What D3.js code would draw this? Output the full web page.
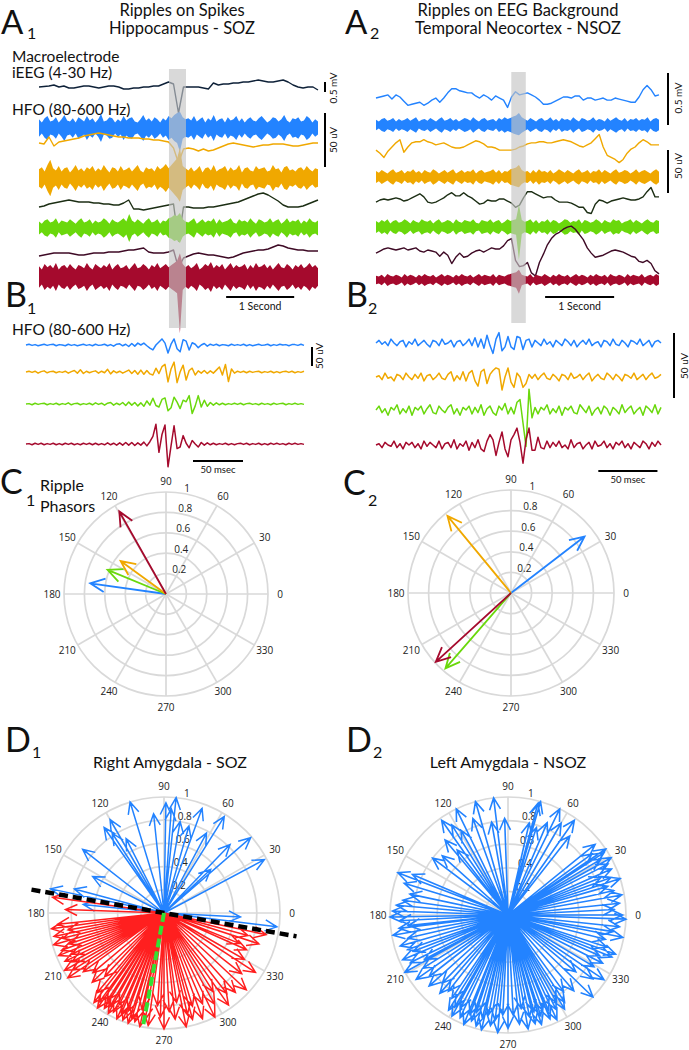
<!DOCTYPE html>
<html><head><meta charset="utf-8">
<script src="https://cdn.jsdelivr.net/npm/d3@7"></script>
<style>body{margin:0;background:#fff} text{font-family:Lato,"Open Sans",sans-serif;fill:#111}</style>
</head><body><script>
// ---------- data ----------
// A1 iEEG traces, uV, 57 samples over 4.1 s
var a1EegNavy = [0,25,50,100,0,50,-50,-50,0,50,50,0,-50,0,50,50,0,-100,-100,-50,-50,0,0,50,50,150,250,150,-1300,0,0,0,0,-50,-100,200,100,150,150,200,200,250,250,300,350,300,250,250,300,350,250,100,0,-50,0,0,-150];
var a1EegOrange = [0,-1,6,-3,1,2,3,4,5,7,8,9,10,9,8,7,6,6,5,5,5,4,4,3,3,2,1,-5,-20,-6,-5,-6,-8,-6,-8,-7,-5,-3,-1,0,-1,-2,-3,-4,-3,-2,-2,-1,-1,-1,-2,-3,-3,-2,-1,0,0].map(function(v){return v*50;});
var a1EegGreen = [-4,-3,-1,0,1,2,3,2,1,1,1,0,0,-1,-1,-2,-2,0,3,-6,-6,-7,-6,-5,-4,-3,-2,-1,-38,-4,-4,-5,-5,-5,-4,-4,-3,-2,-1,0,1,3,5,7,9,10,8,5,2,-2,-4,-4,-4,-3,-1,1,3].map(function(v){return v*50;});
var a1EegMaroon = [-3,-2,-1,0,0,0,0,-1,-2,-2,-1,0,0,0,1,1,1,2,3,3,4,5,1,0,0,0,1,3,-15,-5,-3,-1,0,-1,-2,-2,-3,-4,-5,-4,-2,0,1,2,3,3,4,6,8,7,5,4,3,3,2,2,2].map(function(v){return v*50;});
// A1 HFO envelopes, uV, 100 samples; spike = [index, up, down]
var a1HfoBlue = [8,5,9,11,6,7,10,5,8,12,7,6,9,5,10,8,6,11,7,9,5,8,13,6,7,10,9,5,8,6,11,7,9,10,6,5,8,12,7,9,6,10,8,5,9,7,11,9,12,14,16,10,8,9,7,11,6,8,10,5,9,7,12,6,8,9,5,10,7,8,11,6,9,5,8,10,7,6,9,11,8,5,7,10,9,6,8,12,7,5,9,8,10,6,7,11,9,5,8,6];
var a1HfoOrange = [8,10,6,12,17,9,7,11,6,9,10,5,8,12,7,9,6,10,8,11,6,9,7,12,8,5,10,9,6,11,7,8,10,6,9,12,7,5,10,8,9,6,11,8,10,13,9,12,15,18,24,11,9,7,10,6,8,11,5,9,10,7,12,6,8,9,11,6,10,7,8,12,5,9,10,7,6,11,8,9,10,6,7,12,8,9,5,10,11,7,8,6,9,10,7,11,8,6,9,8];
var a1HfoGreen = [6,4,7,8,5,6,9,4,7,6,5,8,6,4,7,9,5,6,8,4,7,5,6,9,7,4,8,6,5,7,9,6,13,7,5,8,6,4,7,9,5,6,8,4,7,6,9,10,12,11,14,8,6,5,7,9,4,6,8,5,7,6,9,4,8,5,6,7,9,5,4,8,6,7,5,9,6,4,8,7,5,6,9,5,7,8,4,6,9,5,7,6,8,4,7,5,9,6,5,7];
var a1HfoRed = [10,7,12,9,11,8,13,7,10,11,8,12,9,7,11,10,8,13,9,7,12,10,8,11,9,13,7,10,12,8,9,11,7,10,13,8,9,12,10,7,11,9,13,8,10,12,9,11,13,15,20,12,9,11,8,10,13,7,9,12,10,14,8,11,9,12,7,10,13,8,11,9,10,12,7,11,8,13,9,10,12,8,11,7,10,13,9,8,12,10,7,11,9,12,8,10,13,9,11,8];
var a1Spikes = {blue:[50,15,22], orange:[50,28,22], green:[50,14,14], red:[50,22,52]};
// A2 iEEG traces, uV, 72 samples over 4.1 s
var a2EegBlue = [-1,0,1,2,-2,2,0,-4,-8,-7,-6,-5,-8,-6,-3,-1,-5,-1,4,8,8,6,5,4,4,1,-1,2,0,-3,1,-1,-3,-10,0,5,2,3,4,2,0,-3,-7,-7,-6,-4,-2,0,0,-1,1,1,-3,-1,-1,-3,-2,-1,-3,-3,-1,-2,-3,-4,-5,-5,0,7,11,7,1,2].map(function(v){return v*10;});
var a2EegOrange = [-3,-6,-10,-4,0,4,7,-5,0,4,5,5,7,5,4,2,3,4,2,0,-1,-1,0,2,4,6,5,3,0,0,-1,-3,-3,-3,-3,-2,0,1,3,4,4,5,5,4,4,5,6,7,6,5,3,1,0,2,4,8,12,0,-8,-10,-12,-15,-12,-6,-2,0,4,7,5,2,2,2].map(function(v){return v*10;});
var a2EegGreen = [-2,0,1,0,1,2,1,-1,0,2,4,6,3,-2,-3,-2,0,2,5,7,4,4,7,4,2,-1,-4,-3,0,-1,-1,1,1,-1,-3,-7,-5,2,8,8,6,4,2,3,3,0,-2,-2,-2,-3,-5,-7,-7,-12,-13,-4,0,-1,-3,-1,0,1,2,1,0,0,1,3,8,12,3,3].map(function(v){return v*10;});
var a2EegMaroon = [-3,-1,1,2,1,0,1,2,0,1,2,-1,-2,0,-1,-2,-6,-2,-5,-13,-7,-3,-7,-6,-3,-1,0,-2,0,2,1,1,4,9,11,-10,-16,-15,-12,-22,-25,-12,-4,5,11,15,17,20,22,23,20,15,10,2,-3,-7,-6,-5,-3,-1,0,-1,-2,-4,-6,-7,-11,-12,-10,-13,-20,-23].map(function(v){return v*10;});
// A2 HFO envelopes, uV, 100 samples
var a2HfoBlue = [6,4,7,8,5,6,8,4,7,5,6,8,5,7,9,4,6,7,5,8,6,4,7,9,5,6,8,5,7,4,6,8,7,5,9,6,4,7,8,5,6,7,4,8,6,9,7,8,10,11,12,9,7,5,8,6,4,7,8,5,6,9,5,7,4,8,6,7,5,9,6,4,8,7,5,6,9,5,7,6,4,8,5,7,9,6,5,8,4,7,6,8,5,7,6,9,4,7,8,6];
var a2HfoOrange = [7,5,8,6,4,7,9,5,6,8,4,7,6,9,5,7,4,8,6,5,9,7,4,6,8,5,7,9,4,6,8,5,7,6,9,4,7,8,5,6,7,9,5,8,4,7,6,9,10,11,12,8,6,7,4,8,5,9,6,7,5,8,4,6,9,7,5,8,6,4,7,9,5,6,8,4,7,6,9,5,8,6,4,7,9,5,6,8,7,4,6,9,5,7,8,6,4,7,9,6];
var a2HfoGreen = [7,5,8,6,9,4,7,8,5,6,9,7,4,8,6,5,9,7,6,8,4,7,9,5,6,8,7,4,9,6,5,8,7,6,9,5,4,8,7,6,9,5,7,8,4,6,9,7,8,9,10,8,6,7,9,5,8,4,7,6,9,5,8,7,4,6,9,8,5,7,6,9,4,8,7,5,6,9,7,4,8,6,5,9,7,8,4,6,7,9,5,8,6,4,7,9,6,5,8,7];
var a2HfoRed = [5,4,6,3,7,5,4,6,5,3,7,4,6,5,3,6,4,7,5,4,6,3,5,7,4,6,5,3,6,4,7,5,4,6,3,5,7,4,6,5,4,7,3,6,5,4,6,7,8,9,10,6,5,4,7,3,6,5,4,7,5,3,6,4,7,5,4,6,3,5,7,4,6,5,3,6,4,7,5,4,6,3,7,5,4,6,5,3,7,4,6,5,4,7,3,5,6,4,7,5];
var a2Spikes = {blue:[50,14,12], orange:[50,14,12], green:[50,26,38], red:[50,12,16]};
// B1 ripples, uV, 93 samples over 278 ms
var b1Blue = [0,2,-1,1,-2,0,2,-1,1,2,-2,1,0,-2,2,-1,1,-2,0,2,-1,1,-2,2,-1,0,2,-2,1,-3,2,3,-2,2,-4,4,-3,5,
  0,5,-2,-8,-13,0,8,16,5,-21,2,16,-10,-18,14,10,-13,6,2,
  -7,0,4,-3,2,-1,2,-2,1,0,-2,2,-1,1,-1,2,-2,1,-2,0,2,-1,0,2,-2,1,-1,2,0,1,-2,1,1,-1,2,-1];
var b1Orange = [0,2,-1,2,-3,1,3,-2,1,2,-2,1,-1,2,-3,1,4,-3,6,-4,2,-2,1,3,-3,2,-2,7,-5,3,-2,2,-3,1,5,-4,4,-6,
  5,-6,4,-5,-8,10,-4,14,20,-26,8,26,-28,0,18,-21,4,10,-8,3,-3,
  4,-4,3,-3,5,13,-8,20,-25,8,-3,
  2,-1,2,-2,2,-1,1,2,-2,1,-1,2,-2,1,-2,1,2,-1,2,-2,1,-1,2];
var b1Green = [0,1,-2,2,-1,1,2,-2,1,-1,2,-2,1,-1,3,-2,1,2,-2,1,-1,2,-2,3,-1,2,-3,2,4,-3,2,-2,4,-4,5,-3,4,-5,
  3,-6,8,-3,15,-4,-8,12,16,-18,-10,18,5,-12,10,6,22,-25,-5,22,-8,10,-6,4,-3,3,
  -2,2,-2,1,-1,2,-1,2,-2,1,2,-1,1,-2,2,-1,1,-2,2,-1,1,2,-2,1,-1,2,-1,1,-1];
var b1Red = [0,1,-2,2,-1,2,-2,1,-1,2,-2,1,-2,2,-1,2,-2,1,-2,2,-1,2,-2,2,-2,1,-2,3,-2,2,-3,3,-3,4,-3,4,-4,3,
  -3,5,-5,6,20,52,-22,25,50,-60,-5,48,-12,-8,22,2,-10,9,0,-8,4,-3,3,
  -2,2,-2,1,-1,2,-2,1,-2,1,2,-1,2,-2,1,-1,2,-2,1,-2,2,-1,2,-1,1,-2,2,-1,2,-1,1,-1];
// B2 ripples, uV, 96 samples over 241 ms
var b2Blue = [0,2,-1,1,-2,3,0,-2,1,2,-3,1,-1,3,-2,0,2,-1,-3,2,1,-2,3,-1,0,2,-3,1,2,-2,0,3,-2,4,-3,
  3,-4,6,-2,-8,3,8,-6,-3,5,-3,-5,5,4,-5,2,3,-3,
  2,0,-2,3,-1,1,-3,2,0,-2,3,1,-2,2,-3,0,2,-1,3,-2,0,1,-3,2,1,-2,3,-1,-2,2,0,-3,2,1,-1,3,-2,0,2,-3,1,2,0];
var b2Orange = [0,1,-2,3,-1,0,-3,2,1,-2,3,0,-2,2,-1,3,-3,1,2,-2,0,3,-1,-2,2,4,-3,1,-2,4,-3,
  3,5,-3,-7,4,6,-5,2,5,7,6,-10,0,7,-4,-8,3,0,-8,-5,2,-1,
  2,-2,1,3,-1,-2,2,0,-3,2,1,-2,3,-1,0,2,-2,1,3,-3,0,2,-1,-2,3,1,-2,2,0,-3,2,1,-1,3,-2,0,2,-2,1,3,-1,0,2];
var b2Green = [0,3,-2,1,-4,2,0,4,-3,1,-2,3,-4,2,0,3,-3,1,4,-2,-3,3,0,-2,2,4,-3,1,-4,2,0,3,-3,2,-2,4,-4,1,3,-2,-4,3,0,5,-3,2,
  -3,6,8,-10,-28,16,-6,2,
  -3,2,0,4,-3,1,-2,3,-4,2,0,3,-2,-3,4,1,-2,3,-4,0,2,-3,3,1,-4,2,0,-3,4,-2,1,3,-3,0,2,-4,3,1,-2,4,-3,2];
var b2Red = [0,1,-2,2,0,-1,3,-2,1,-3,2,0,2,-2,1,-3,3,-1,2,0,-2,3,-3,1,2,-2,4,-3,1,-1,3,-4,2,-2,4,-3,
  -5,3,8,4,-8,2,10,-3,-9,4,8,13,2,-14,4,13,-4,-4,6,-2,-3,3,-2,
  2,-1,3,-2,0,-3,4,-2,1,2,-3,0,2,-3,3,-1,0,3,-2,1,-3,2,0,3,-2,1,-3,2,0,-2,3,1,-3,2,-1,3,0];
// C phasors [colour, angle deg, magnitude]
var c1Phasors = [["blue",172,0.75],["green",157.5,0.62],["orange",144,0.55],["red",119.5,0.93]];
var c2Phasors = [["blue",37.5,0.9],["orange",129.5,0.97],["green",229,0.97],["red",222.5,0.99]];
// D1 phasors [angle deg, magnitude]
var d1Blue = [[107,1.0],[96,0.86],[89,0.95],[84,1.0],[86,0.9],[80,0.8],[70,0.96],[74,0.78],[58,0.98],[62,0.78],[41,0.99],[46,0.82],[28,0.98],[43,0.55],[120,0.93],[123,0.82],[125,0.9],[117,0.72],[142,0.89],[153,0.69],[168,1.0],[165,0.8],[174,0.7],[353,0.98],[357,0.66]];
var d1Red = [[172,0.97],[178,0.85],[186,0.92],[188,0.98],[190,0.84],[192,0.97],[194,0.9],[196,0.99],[198,0.86],[200,0.94],[202,0.98],[204,0.87],[206,0.95],[208,0.9],[210,0.99],[212,0.93],[214,1.0],[216,0.86],[220,0.8],[224,0.86],[227,0.75],[230,0.9],[232,0.98],[234,0.95],[235,1.0],[237,0.9],[238,0.97],[240,0.93],[241,0.99],[243,0.96],[244,0.88],[246,1.0],[247,0.94],[249,0.99],[250,0.9],[252,1.0],[253,0.95],[255,0.97],[257,0.85],[258,1.0],[260,0.93],[262,0.98],[266,0.8],[268,0.9],[270,1.0],[273,0.85],[276,0.92],[278,0.78],[281,1.0],[283,0.9],[285,0.95],[287,0.84],[290,0.97],[293,0.85],[296,1.0],[299,0.9],[302,0.8],[305,0.97],[308,0.88],[312,0.92],[317,0.97],[322,0.85],[327,0.94],[330,0.8],[336,0.78],[338,0.7],[342,0.86],[345,0.75],[348,0.9]];
var d1SplitAngle = 170, d1SplitLen = 1.16;
var d1Mean = [259.5, 1.0];
// D2 phasors
var d2Blue = [[0,0.97],[3,0.9],[6,0.95],[10,0.98],[13,0.92],[16,0.88],[18,1.0],[20,0.93],[22,0.85],[24,0.96],[27,0.95],[29,1.0],[31,0.92],[33,0.97],[34,1.0],[36,0.88],[39,0.95],
  [52,0.85],[55,0.98],[60,0.9],[64,1.0],[67,0.85],[72,0.78],[74,1.0],[75,0.98],[77,0.8],
  [92,0.82],[97,1.0],[100,0.8],[106,1.0],[110,0.87],[116,1.0],[119,0.82],[122,0.9],[125,0.98],[128,0.7],[130,0.83],
  [138,0.75],[143,0.8],[157,0.88],[159,1.0],[163,0.92],[168,0.85],
  [172,0.9],[175,0.95],[178,0.98],[181,1.0],[183,0.92],[186,0.85],[187,0.93],[190,0.99],[193,0.87],[196,0.95],[199,0.9],
  [201,0.86],[203,0.97],[206,0.92],[208,0.8],[209,1.0],[212,0.85],[215,0.95],[218,0.85],[222,0.9],[226,0.8],[229,0.88],[232,0.82],
  [236,0.85],[238,0.95],[240,0.9],[241,0.98],[243,0.88],[245,0.96],[248,1.0],[249,0.9],[251,0.95],[252,0.87],[254,0.98],[256,0.9],[257,1.0],[259,0.86],[261,0.95],[263,0.9],[265,1.0],[267,0.85],
  [270,0.96],[273,0.85],[276,0.93],[278,0.8],[280,0.98],[282,0.88],[284,0.95],[285,0.85],[287,0.97],[288,0.9],[290,0.86],[292,0.95],[293,0.88],[295,0.98],[297,0.9],[299,0.85],[301,0.93],[303,0.88],[306,0.8],
  [311,0.85],[316,1.0],[320,0.75],[323,0.9],[326,0.98],[329,0.85],[333,0.9],[336,0.85],[338,0.95],[340,0.97],[342,0.88],[346,0.85],[349,0.99],[351,0.9],[354,0.95],[358,1.0]];
var polarAngles = [0,30,60,90,120,150,180,210,240,270,300,330];
var polarRings = [0.2,0.4,0.6,0.8,1];
var ringLabels = ["0.2","0.4","0.6","0.8","1"];

// ---------- style ----------
var col = {blue:"#2383ff", orange:"#f0a800", green:"#6ad80c", red:"#a50a2d",
  navy:"#0e2138", dkgreen:"#1c2e14", maroon:"#3e0a25", dred:"#ff1f1f", grid:"#d9d9d9"};

var svg = d3.select("body").append("svg").attr("width",689).attr("height",1050);
svg.append("rect").attr("width",689).attr("height",1050).attr("fill","#fff");

function label(x, y, s, size, anchor, fam) {
  return svg.append("text").attr("x",x).attr("y",y).attr("font-size",size)
    .attr("text-anchor",anchor || "start").style("font-family", fam || null).text(s);
}
function letter(x, y, L, sub, sx, sy, size) {
  label(x, y, L, size || 34);
  label(sx, sy, sub, 16);
}
function vlabel(x, y, s, size) {
  svg.append("text").attr("transform","translate("+x+","+y+") rotate(-90)")
    .attr("text-anchor","middle").attr("font-size",size).text(s);
}
function trace(vals, xr, base, gain, color, w) {
  var x = d3.scaleLinear().domain([0, vals.length-1]).range(xr);
  var line = d3.line().x(function(d,i){return x(i);}).y(function(d){return base - gain(d);});
  svg.append("path").datum(vals).attr("d",line).attr("fill","none")
    .attr("stroke",color).attr("stroke-width",w).attr("stroke-linejoin","round");
}
function band(amp, sp, xr, base, gain, color) {
  var x = d3.scaleLinear().domain([0, amp.length-1]).range(xr);
  var area = d3.area().x(function(d,i){return x(i);})
    .y0(function(d,i){return base + gain(i===sp[0] ? sp[2] : d);})
    .y1(function(d,i){return base - gain(i===sp[0] ? sp[1] : d);});
  svg.append("path").datum(amp).attr("d",area).attr("fill",color);
}
function hbar(x1, x2, y) {
  svg.append("line").attr("x1",x1).attr("x2",x2).attr("y1",y).attr("y2",y).attr("stroke","#000").attr("stroke-width",2);
}
function vbar(x, y1, y2) {
  svg.append("line").attr("x1",x).attr("x2",x).attr("y1",y1).attr("y2",y2).attr("stroke","#000").attr("stroke-width",2);
}

// ---------- A1 ----------
letter(1, 34, "A", "1", 27, 39, 33);
label(182, 16, "Ripples on Spikes", 16.5, "middle");
label(182, 34, "Hippocampus - SOZ", 16.5, "middle");
label(12, 62, "Macroelectrode", 15.5);
label(12, 78, "iEEG (4-30 Hz)", 15.5);
label(12, 115, "HFO (80-600 Hz)", 15.5);
var a1Time = d3.scaleLinear().domain([0, 4.1]).range([39, 318]);
var a1Eeg = d3.scaleLinear().domain([0, 500]).range([0, 10]);
var a1Hfo = d3.scaleLinear().domain([0, 50]).range([0, 54]);
var xa1 = a1Time.range();
trace(a1EegNavy, xa1, 87, a1Eeg, col.navy, 1.4);
band(a1HfoBlue, a1Spikes.blue, xa1, 128, a1Hfo, col.blue);
trace(a1EegOrange, xa1, 143, a1Eeg, col.orange, 1.4);
band(a1HfoOrange, a1Spikes.orange, xa1, 178, a1Hfo, col.orange);
trace(a1EegGreen, xa1, 203, a1Eeg, col.dkgreen, 1.4);
band(a1HfoGreen, a1Spikes.green, xa1, 228, a1Hfo, col.green);
trace(a1EegMaroon, xa1, 253, a1Eeg, col.maroon, 1.4);
band(a1HfoRed, a1Spikes.red, xa1, 277, a1Hfo, col.red);
svg.append("rect").attr("x",a1Time(1.91)).attr("width",a1Time(2.16)-a1Time(1.91))
  .attr("y",69).attr("height",259).attr("fill","#c4c4c4").attr("opacity",0.65);
vbar(325, 82, 82 + a1Eeg(500)); vlabel(337, 88, "0.5 mV", 10);
vbar(325, 113, 113 + a1Hfo(50)); vlabel(337, 140, "50 uV", 10);
hbar(a1Time(2.75), a1Time(3.75), 297);
label((a1Time(2.75)+a1Time(3.75))/2, 310, "1 Second", 10.5, "middle");

// ---------- A2 ----------
letter(345, 34, "A", "2", 370, 39, 33);
label(518, 16, "Ripples on EEG Background", 16.5, "middle");
label(518, 34, "Temporal Neocortex - NSOZ", 16.5, "middle");
var a2Time = d3.scaleLinear().domain([0, 4.1]).range([376, 659]);
var a2Eeg = d3.scaleLinear().domain([0, 500]).range([0, 52]);
var a2Hfo = d3.scaleLinear().domain([0, 50]).range([0, 43]);
var xa2 = a2Time.range();
trace(a2EegBlue, xa2, 97, a2Eeg, col.blue, 1.4);
band(a2HfoBlue, a2Spikes.blue, xa2, 125, a2Hfo, col.blue);
trace(a2EegOrange, xa2, 147, a2Eeg, col.orange, 1.4);
band(a2HfoOrange, a2Spikes.orange, xa2, 177, a2Hfo, col.orange);
trace(a2EegGreen, xa2, 200, a2Eeg, col.dkgreen, 1.4);
band(a2HfoGreen, a2Spikes.green, xa2, 227, a2Hfo, col.green);
trace(a2EegMaroon, xa2, 250, a2Eeg, col.maroon, 1.4);
band(a2HfoRed, a2Spikes.red, xa2, 280, a2Hfo, col.red);
svg.append("rect").attr("x",a2Time(1.96)).attr("width",a2Time(2.17)-a2Time(1.96))
  .attr("y",72).attr("height",251).attr("fill","#c4c4c4").attr("opacity",0.65);
vbar(668, 73, 73 + a2Eeg(500)); vlabel(682, 98, "0.5 mV", 10);
vbar(668, 150, 150 + a2Hfo(50)); vlabel(682, 166, "50 uV", 10);
hbar(a2Time(2.45), a2Time(3.45), 297);
label((a2Time(2.45)+a2Time(3.45))/2, 310, "1 Second", 10.5, "middle");

// ---------- B1 ----------
letter(5, 307, "B", "1", 27, 314);
label(12, 335, "HFO (80-600 Hz)", 15.5);
var b1Time = d3.scaleLinear().domain([0, 278]).range([26, 304]);
var b1Amp = d3.scaleLinear().domain([0, 50]).range([0, 19]);
trace(b1Blue, b1Time.range(), 345, b1Amp, col.blue, 1.5);
trace(b1Orange, b1Time.range(), 372, b1Amp, col.orange, 1.5);
trace(b1Green, b1Time.range(), 404, b1Amp, col.green, 1.5);
trace(b1Red, b1Time.range(), 444, b1Amp, col.red, 1.5);
vbar(312, 347, 347 + b1Amp(50)); vlabel(323, 356, "50 uV", 10);
hbar(b1Time(167), b1Time(217), 461);
label(b1Time(192), 473, "50 msec", 9.5, "middle");

// ---------- B2 ----------
letter(346, 307, "B", "2", 368, 314);
var b2Time = d3.scaleLinear().domain([0, 241]).range([376, 661]);
var b2Amp = d3.scaleLinear().domain([0, 50]).range([0, 65]);
trace(b2Blue, b2Time.range(), 343, b2Amp, col.blue, 1.5);
trace(b2Orange, b2Time.range(), 377, b2Amp, col.orange, 1.5);
trace(b2Green, b2Time.range(), 410, b2Amp, col.green, 1.5);
trace(b2Red, b2Time.range(), 445, b2Amp, col.red, 1.5);
vbar(674, 333, 333 + b2Amp(50)); vlabel(688, 366, "50 uV", 10);
hbar(b2Time(188), b2Time(238), 471);
label(b2Time(213), 483, "50 msec", 9.5, "middle");

// ---------- polar helpers ----------
function polar(cx, cy, R) {
  var r = d3.scaleLinear().domain([0, 1]).range([0, R]);
  var g = svg.append("g");
  g.selectAll("circle").data(polarRings).join("circle").attr("cx",cx).attr("cy",cy)
    .attr("r",function(d){return r(d);}).attr("fill","none").attr("stroke",col.grid).attr("stroke-width",1.7);
  g.selectAll("line").data(polarAngles).join("line").attr("x1",cx).attr("y1",cy)
    .attr("x2",function(d){return cx + r(1)*Math.cos(d*Math.PI/180);})
    .attr("y2",function(d){return cy - r(1)*Math.sin(d*Math.PI/180);})
    .attr("stroke",col.grid).attr("stroke-width",1.7);
  g.selectAll("text.ang").data(polarAngles).join("text").attr("class","ang")
    .attr("x",function(d){return cx + (R+12)*Math.cos(d*Math.PI/180);})
    .attr("y",function(d){return cy - (R+11)*Math.sin(d*Math.PI/180);})
    .attr("dy","0.35em").attr("text-anchor","middle").attr("font-size",10)
    .style("font-family","'Open Sans'").style("fill","#222").text(function(d){return d;});
  g.selectAll("text.rad").data(polarRings).join("text").attr("class","rad")
    .attr("x",function(d){return cx + R*0.11 + 10*d;})
    .attr("y",function(d){return cy - r(d) - 4;})
    .attr("dy","0.35em").attr("text-anchor","middle").attr("font-size",10)
    .style("font-family","'Open Sans'").style("fill","#222").text(function(d,i){return ringLabels[i];});
  return r;
}
function arrows(cx, cy, r, list, color, w, head) {
  var p = d3.path();
  list.forEach(function(d){
    var a = d[0]*Math.PI/180, len = r(d[1]);
    var tx = cx + len*Math.cos(a), ty = cy - len*Math.sin(a);
    var h = 25*Math.PI/180;
    p.moveTo(cx, cy); p.lineTo(tx, ty);
    p.moveTo(tx + head*Math.cos(a+Math.PI-h), ty - head*Math.sin(a+Math.PI-h));
    p.lineTo(tx, ty);
    p.lineTo(tx + head*Math.cos(a+Math.PI+h), ty - head*Math.sin(a+Math.PI+h));
  });
  svg.append("path").attr("d",p.toString()).attr("fill","none").attr("stroke",color)
    .attr("stroke-width",w).attr("stroke-linejoin","miter");
}

// ---------- C1 / C2 ----------
letter(0, 494, "C", "1", 26, 506);
label(40, 491, "Ripple", 16);
label(40, 512, "Phasors", 16);
var c1r = polar(166, 594, 102);
c1Phasors.forEach(function(d){ arrows(166, 594, c1r, [[d[1], d[2]]], col[d[0]], 1.8, 16); });
letter(343, 495, "C", "2", 368, 506);
var c2r = polar(511, 593, 103);
c2Phasors.forEach(function(d){ arrows(511, 593, c2r, [[d[1], d[2]]], col[d[0]], 1.8, 16); });

// ---------- D1 / D2 ----------
letter(5, 752, "D", "1", 32, 758);
label(170, 768, "Right Amygdala - SOZ", 16, "middle");
var d1r = polar(164, 913, 116);
arrows(164, 913, d1r, d1Blue, col.blue, 1.5, 13);
arrows(164, 913, d1r, d1Red, col.dred, 1.5, 13);
var sa = d1SplitAngle*Math.PI/180;
svg.append("line")
  .attr("x1",164 + d1r(d1SplitLen)*Math.cos(sa)).attr("y1",913 - d1r(d1SplitLen)*Math.sin(sa))
  .attr("x2",164 - d1r(d1SplitLen)*Math.cos(sa)).attr("y2",913 + d1r(d1SplitLen)*Math.sin(sa))
  .attr("stroke","#000").attr("stroke-width",4.5).attr("stroke-dasharray","9,5");
var ma = d1Mean[0]*Math.PI/180;
svg.append("line").attr("x1",164).attr("y1",913)
  .attr("x2",164 + d1r(d1Mean[1])*Math.cos(ma)).attr("y2",913 - d1r(d1Mean[1])*Math.sin(ma))
  .attr("stroke","#33e033").attr("stroke-width",4).attr("stroke-dasharray","9,4");

letter(346, 752, "D", "2", 373, 758);
label(508, 768, "Left Amygdala - NSOZ", 16, "middle");
var d2r = polar(508, 915, 118);
arrows(508, 915, d2r, d2Blue, col.blue, 1.6, 13);
</script></body></html>
